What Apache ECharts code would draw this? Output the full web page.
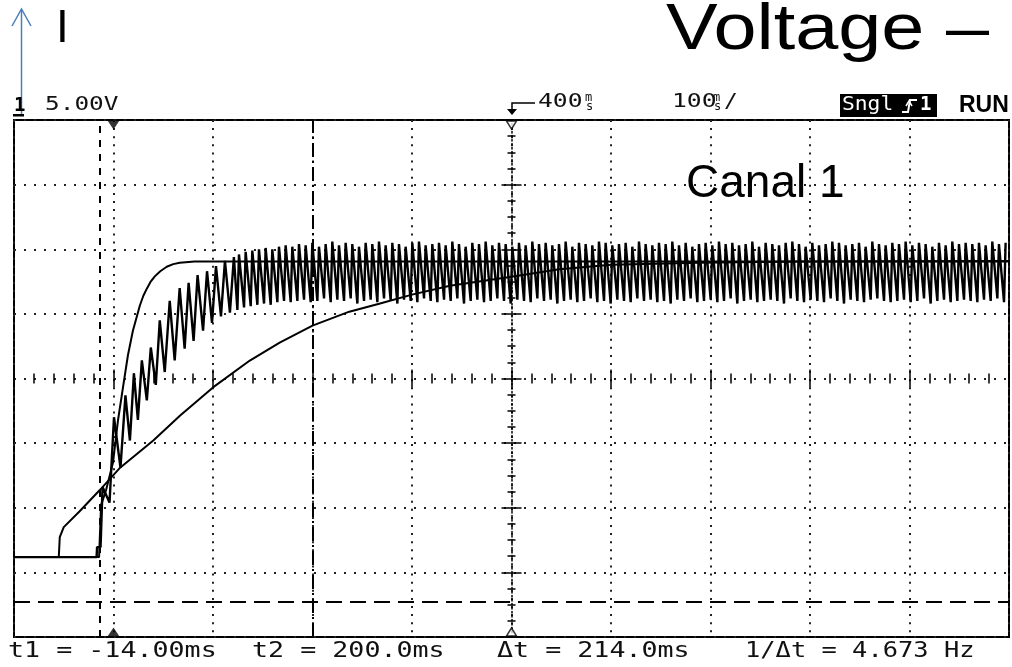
<!DOCTYPE html>
<html><head><meta charset="utf-8">
<script src="https://cdn.jsdelivr.net/npm/echarts@6/dist/echarts.min.js"></script>
<style>html,body{margin:0;padding:0;background:#fff}#c{width:1012px;height:667px}</style>
</head><body><div id="c"></div>
<script>
// ---- data (time in ms, voltage in V; 100 ms/div, 5 V/div) ----
const timeRange = [-100, 900];
const voltRange = [-20, 20];
const timeDiv = 100;
const voltDiv = 5;
const cursorT1 = -14;
const cursorT2 = 200;
const refLevel = -17.3;
const triggerTime = 0;
const delayTime = 400;

const fastTrace = [[-100,-13.82],[-14.5,-13.82],[-12.5,-9.8],[-7.5,-8.65],[-0.5,-6.5],[4.5,-3.25],[9.5,-0.7],[14.5,1.8],[19.5,3.7],[26.5,5.65],[30,6.4],[33.5,6.95],[37,7.45],[41.5,7.9],[47,8.3],[53.5,8.65],[60,8.85],[66.5,8.95],[81.5,9.05],[900,9.05]];

const slowTrace = [[-100,-13.82],[-55,-13.82],[-54,-12.28],[-50,-11.5],[-34,-10.27],[-14,-8.65],[6,-6.95],[40,-4.79],[67,-2.86],[100,-0.69],[137,1.39],[167,2.78],[200,4.09],[237,5.17],[267,5.79],[300,6.49],[338,7.18],[400,7.88],[448,8.45],[500,8.8],[589,8.95],[689,9.05],[900,9.1]];

const rippleRise = [[-100,-13.82],[-17,-13.82],[-16.5,-13.05],[-13,-13.05],[-11,-8.4],[-4,-9.6],[0.5,-3.0],[7,-6.9],[12,-1.3],[16.5,-4.8],[20.5,0.4],[24.5,-3.2],[28.5,1.4],[33.5,-1.7],[37.5,2.4],[42.5,-0.5],[46.5,4.5],[51.5,0.5],[56.5,6.0],[61.5,1.4],[66.5,7.0],[71.5,2.3],[75.5,7.4],[80.5,2.9],[84.5,8.0],[90,3.7],[94,8.3],[99,4.3],[103,8.7],[108,4.8],[112,9.1],[117,5.1],[121,9.4]];

const rippleStart = 124.5;
const ripplePeriod = 6.7;
const rippleRiseTime = 1.6;
const rippleTops = [
9.6,9.8,9.9,10.0,10.1,10.0,10.2,10.3,10.2,10.4,
10.3,10.5,10.2,10.4,10.6,10.3,10.5,10.4,10.2,10.5,
10.4,10.6,10.3,10.5,10.4,10.2,10.5,10.6,10.3,10.4,
10.5,10.3,10.6,10.4,10.2,10.5,10.4,10.6,10.3,10.5,
10.4,10.2,10.5,10.3,10.6,10.4,10.5,10.3,10.4,10.6,
10.2,10.5,10.4,10.3,10.6,10.5,10.3,10.4,10.5,10.2,
10.6,10.4,10.3,10.5,10.4,10.6,10.3,10.5,10.2,10.4,
10.5,10.3,10.6,10.4,10.5,10.3,10.4,10.6,10.2,10.5,
10.4,10.3,10.5,10.6,10.4,10.2,10.5,10.3,10.4,10.6,
10.5,10.3,10.4,10.5,10.2,10.6,10.4,10.3,10.5,10.4,
10.6,10.3,10.5,10.4,10.2,10.5,10.3,10.6,10.4,10.5,
10.4,10.5,10.3,10.6,10.4,10.5];
const rippleBottoms = [
5.3,5.5,5.6,5.7,5.8,5.7,5.9,6.0,5.9,6.0,
6.1,5.9,6.0,6.2,5.9,6.1,6.0,6.2,5.8,6.0,
6.1,5.9,6.2,6.0,5.8,6.1,6.0,5.9,6.2,6.0,
5.9,6.1,6.0,6.2,5.8,6.0,6.1,5.9,6.0,6.2,
6.0,5.8,6.1,6.0,5.9,6.2,6.0,6.1,5.8,6.0,
6.1,5.9,6.0,6.2,5.9,6.0,5.8,6.1,6.0,5.9,
6.2,6.0,6.1,5.9,6.0,5.8,6.1,6.0,6.2,5.9,
6.0,6.1,5.9,6.0,6.2,5.8,6.0,6.1,5.9,6.0,
6.1,6.0,5.8,6.2,6.0,5.9,6.1,6.0,5.9,6.2,
6.0,5.8,6.1,6.0,5.9,6.1,6.2,6.0,5.9,6.0,
6.1,5.9,6.0,6.2,5.8,6.0,6.1,5.9,6.0,6.1,
6.0,5.9,6.1,6.0,6.2,5.9];

// ---- build ripple trace from read values ----
const rippleTrace = rippleRise.slice();
for (let i = 0; i < rippleTops.length; i++) {
  const t0 = rippleStart + i * ripplePeriod;
  rippleTrace.push([t0, rippleBottoms[i]]);
  rippleTrace.push([t0 + rippleRiseTime, rippleTops[i]]);
}

const BLACK = '#000';
const scopeFont = '"DejaVu Sans Mono", monospace';

function sText(x, y, text, size, sx, fill, weight) {
  return {
    type: 'text', x: x, y: y, scaleX: sx || 1, z: 100,
    style: { text: text, font: (weight ? weight + ' ' : '') + size + 'px ' + scopeFont, fill: fill || '#111', textAlign: 'left', textVerticalAlign: 'middle' }
  };
}

const chart = echarts.init(document.getElementById('c'), null, { renderer: 'canvas' });

const lineSeries = (data, w) => ({
  type: 'line', data: data, showSymbol: false, symbol: 'none', animation: false,
  lineStyle: { color: BLACK, width: w || 2 }, z: 5, silent: true
});

const tickStyle = { color: BLACK, width: 1.5 };
const option = {
  backgroundColor: '#fff',
  animation: false,
  grid: { left: 14, right: 3, top: 120, bottom: 30, show: true, borderColor: BLACK, borderWidth: 2, backgroundColor: '#fff' },
  xAxis: [
    { type: 'value', min: timeRange[0], max: timeRange[1], interval: timeDiv, position: 'bottom',
      axisLine: { show: false, onZero: true }, axisLabel: { show: false },
      axisTick: { show: true, inside: true, length: 9, lineStyle: tickStyle },
      minorTick: { show: true, splitNumber: 5, length: 5, lineStyle: tickStyle },
      splitLine: { show: true, lineStyle: { color: '#222', width: 2, type: [2, 6.1] } } },
    { type: 'value', min: timeRange[0], max: timeRange[1], interval: timeDiv, position: 'top',
      axisLine: { show: false, onZero: true }, axisLabel: { show: false },
      axisTick: { show: true, inside: true, length: 9, lineStyle: tickStyle },
      minorTick: { show: true, splitNumber: 5, length: 5, lineStyle: tickStyle },
      splitLine: { show: false } }
  ],
  yAxis: [
    { type: 'value', min: voltRange[0], max: voltRange[1], interval: voltDiv, position: 'left', offset: -497.5,
      axisLine: { show: true, onZero: false, lineStyle: { color: BLACK, width: 1.5, type: [1.5, 2.5] } }, axisLabel: { show: false },
      axisTick: { show: true, inside: true, length: 10, lineStyle: tickStyle },
      minorTick: { show: true, splitNumber: 4, length: 4, lineStyle: tickStyle },
      splitLine: { show: true, lineStyle: { color: '#222', width: 2, type: [2, 8] } } },
    { type: 'value', min: voltRange[0], max: voltRange[1], interval: voltDiv, position: 'right', offset: -497.5,
      axisLine: { show: false, onZero: false }, axisLabel: { show: false },
      axisTick: { show: true, inside: true, length: 10, lineStyle: tickStyle },
      minorTick: { show: true, splitNumber: 4, length: 4, lineStyle: tickStyle },
      splitLine: { show: false } }
  ],
  series: [
    lineSeries(slowTrace),
    lineSeries(rippleTrace, 2.4),
    Object.assign(lineSeries(fastTrace), {
      markLine: {
        silent: true, symbol: 'none', animation: false, label: { show: false },
        data: [
          { xAxis: cursorT1, lineStyle: { color: BLACK, width: 2, type: [7, 7] } },
          { xAxis: cursorT2, lineStyle: { color: BLACK, width: 2, type: [14, 4, 2, 4] } },
          { yAxis: refLevel, lineStyle: { color: BLACK, width: 2, type: [16, 8] } }
        ]
      }
    }),
    { type: 'scatter', silent: true, clip: false, animation: false, z: 20,
      data: [[triggerTime, voltRange[1]]], symbol: 'triangle', symbolRotate: 180, symbolSize: [12, 9], symbolOffset: [0, 5],
      itemStyle: { color: BLACK } },
    { type: 'scatter', silent: true, clip: false, animation: false, z: 20,
      data: [[triggerTime, voltRange[0]]], symbol: 'triangle', symbolSize: [12, 9], symbolOffset: [0, -5],
      itemStyle: { color: BLACK } },
    { type: 'scatter', silent: true, clip: false, animation: false, z: 20,
      data: [[delayTime, voltRange[1]]], symbol: 'triangle', symbolRotate: 180, symbolSize: [10, 8], symbolOffset: [0, 5],
      itemStyle: { color: '#fff', borderColor: BLACK, borderWidth: 1.5 } },
    { type: 'scatter', silent: true, clip: false, animation: false, z: 20,
      data: [[delayTime, voltRange[0]]], symbol: 'triangle', symbolSize: [10, 8], symbolOffset: [0, -5],
      itemStyle: { color: '#fff', borderColor: BLACK, borderWidth: 1.5 } }
  ],
  graphic: [
    // slide annotations
    { type: 'polyline', z: 100, shape: { points: [[21.5, 116], [21.5, 9]] }, style: { stroke: '#4a7ebb', lineWidth: 1.5, fill: null } },
    { type: 'polyline', z: 100, shape: { points: [[12, 26], [21.5, 9], [31, 26]] }, style: { stroke: '#4a7ebb', lineWidth: 1.5, fill: null } },
    { type: 'text', z: 100, x: 56, y: 29, style: { text: 'I', font: '46px "Liberation Sans", Arial, sans-serif', fill: '#000', textAlign: 'left', textVerticalAlign: 'middle' } },
    { type: 'text', z: 100, x: 666, y: 31, scaleX: 1.21, style: { text: 'Voltage –', font: '64px "Liberation Sans", Arial, sans-serif', fill: '#000', textAlign: 'left', textVerticalAlign: 'middle' } },
    { type: 'text', z: 100, x: 686, y: 184, style: { text: 'Canal 1', font: '46px "Liberation Sans", Arial, sans-serif', fill: '#000', textAlign: 'left', textVerticalAlign: 'middle' } },
    // scope header
    sText(14, 106, '1', 19, 1, '#000', 'bold'),
    { type: 'rect', z: 100, shape: { x: 13, y: 114, width: 11, height: 2.5 }, style: { fill: '#000' } },
    sText(45, 105, '5.00V', 20, 1.22),
    { type: 'polyline', z: 100, shape: { points: [[535, 103], [512, 103], [512, 110]] }, style: { stroke: '#000', lineWidth: 1.5, fill: null } },
    { type: 'polygon', z: 100, shape: { points: [[507, 109], [517, 109], [512, 115]] }, style: { fill: '#000' } },
    sText(538, 102, '400', 19, 1.3),
    sText(585, 98, 'm', 12, 1.0),
    sText(586, 107, 's', 12, 1.0),
    sText(672, 102, '100', 19, 1.3),
    sText(713, 98, 'm', 12, 1.0),
    sText(714, 107, 's', 12, 1.0),
    sText(724, 102, '/', 19, 1.2),
    { type: 'rect', z: 99, shape: { x: 840, y: 94, width: 97, height: 23 }, style: { fill: '#000' } },
    sText(842, 105, 'Sngl', 19, 1.12, '#fff'),
    { type: 'polyline', z: 101, shape: { points: [[902, 112], [908, 112], [910, 100], [917, 100]] }, style: { stroke: '#fff', lineWidth: 2, fill: null } },
    { type: 'polyline', z: 101, shape: { points: [[906, 106], [909, 101], [912, 106]] }, style: { stroke: '#fff', lineWidth: 1.5, fill: null } },
    sText(920, 105, '1', 19, 1, '#fff', 'bold'),
    { type: 'text', z: 100, x: 959, y: 106, style: { text: 'RUN', font: 'bold 23px "Liberation Sans", Arial, sans-serif', fill: '#000', textAlign: 'left', textVerticalAlign: 'middle' } },
    // cursor readout
    sText(8, 652, 't1 = -14.00ms', 21, 1.27),
    sText(252, 652, 't2 = 200.0ms', 21, 1.27),
    sText(497, 652, 'Δt = 214.0ms', 21, 1.27),
    sText(745, 652, '1/Δt = 4.673 Hz', 21, 1.21)
  ]
};
chart.setOption(option);
</script>
</body></html>
